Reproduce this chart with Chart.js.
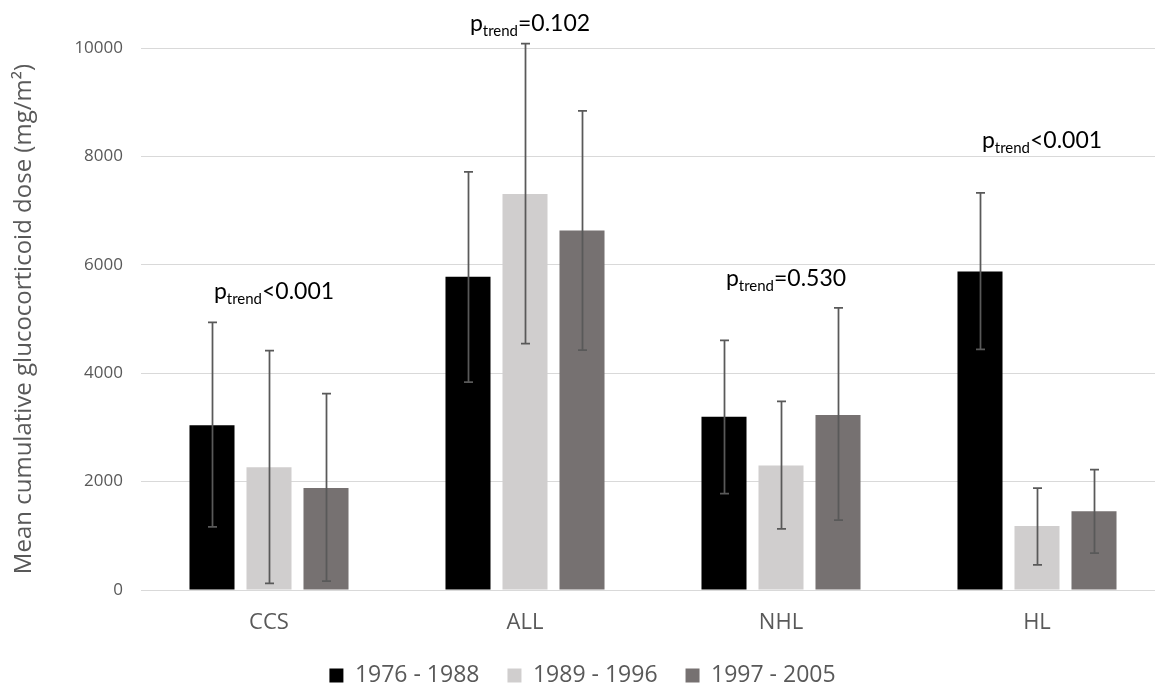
<!DOCTYPE html>
<html>
<head>
<meta charset="utf-8">
<script src="https://cdn.jsdelivr.net/npm/chart.js@4.4.1/dist/chart.umd.min.js"></script>
<style>
    html, body { margin: 0; padding: 0; background: #fff; overflow: hidden; }
    #wrap { position: relative; width: 1170px; height: 700px; }
</style>
</head>
<body>
<div id="wrap"><canvas id="dose-chart"></canvas></div>
<script>
// Mean cumulative glucocorticoid dose by diagnosis and treatment period
const categories = ['CCS', 'ALL', 'NHL', 'HL'];
const periods = ['1976 - 1988', '1989 - 1996', '1997 - 2005'];

const mean1976 = [3040, 5780, 3195, 5875];
const mean1989 = [2265, 7305, 2295, 1180];
const mean1997 = [1880, 6635, 3230, 1455];

// error bar ends
const upper1976 = [4940, 7715, 4605, 7325];
const lower1976 = [1165, 3835, 1780, 4440];
const upper1989 = [4415, 10080, 3480, 1880];
const lower1989 = [120, 4545, 1130, 465];
const upper1997 = [3625, 8840, 5205, 2220];
const lower1997 = [165, 4425, 1290, 680];

// p for trend per category, and the dose level its baseline sits at
const pTrend = ['<0.001', '=0.102', '=0.530', '<0.001'];
const pLabelAt = [5360, 10320, 5600, 8155];

const yMax = 10000;
const yStep = 2000;

const GRAY = '#595959';
const FONT = "'Open Sans', sans-serif";

const errorBars = {
    id: 'errorBars',
    afterDatasetsDraw(chart) {
        const ctx = chart.ctx;
        const y = chart.scales.y;
        const ranges = [[lower1976, upper1976], [lower1989, upper1989], [lower1997, upper1997]];
        ctx.save();
        ctx.strokeStyle = GRAY;
        ctx.lineWidth = 1.75;
        chart.data.datasets.forEach((ds, i) => {
            const meta = chart.getDatasetMeta(i);
            meta.data.forEach((bar, j) => {
                const lo = y.getPixelForValue(ranges[i][0][j]);
                const hi = y.getPixelForValue(ranges[i][1][j]);
                const x = Math.round(bar.x) + 0.5;
                ctx.beginPath();
                ctx.moveTo(x, lo); ctx.lineTo(x, hi);
                ctx.moveTo(x - 4.5, hi); ctx.lineTo(x + 4.5, hi);
                ctx.moveTo(x - 4.5, lo); ctx.lineTo(x + 4.5, lo);
                ctx.stroke();
            });
        });
        ctx.restore();
    }
};

const trendLabels = {
    id: 'trendLabels',
    afterDraw(chart) {
        const ctx = chart.ctx;
        const xs = chart.scales.x, ys = chart.scales.y;
        const big = "23px Lato, sans-serif";
        const small = "15px Lato, sans-serif";
        ctx.save();
        ctx.fillStyle = '#000';
        ctx.textBaseline = 'alphabetic';
        ctx.textAlign = 'left';
        pTrend.forEach((txt, i) => {
            ctx.font = big;
            const wp = ctx.measureText('p').width;
            const wr = ctx.measureText(txt).width;
            ctx.font = small;
            const ws = ctx.measureText('trend').width;
            const cx = xs.getPixelForValue(i) + 5;
            const by = ys.getPixelForValue(pLabelAt[i]);
            let x = cx - (wp + ws + wr) / 2;
            ctx.font = big;
            ctx.fillText('p', x, by);
            x += wp;
            ctx.font = small;
            ctx.fillText('trend', x, by + 5);
            x += ws;
            ctx.font = big;
            ctx.fillText(txt, x, by);
        });
        ctx.restore();
    }
};

new Chart(document.getElementById('dose-chart'), {
    type: 'bar',
    data: {
        labels: categories,
        datasets: [
            { label: periods[0], data: mean1976, backgroundColor: '#000000' },
            { label: periods[1], data: mean1989, backgroundColor: '#d0cece' },
            { label: periods[2], data: mean1997, backgroundColor: '#767171' }
        ]
    },
    options: {
        responsive: true,
        maintainAspectRatio: false,
        animation: false,
        categoryPercentage: 0.668,
        barPercentage: 0.79,
        layout: { padding: { top: 48, right: 5, bottom: 3, left: 0 } },
        plugins: {
            legend: {
                position: 'bottom',
                labels: {
                    boxWidth: 14,
                    boxHeight: 14,
                    padding: 28,
                    color: GRAY,
                    font: { family: FONT, size: 23 }
                }
            },
            tooltip: { enabled: false }
        },
        scales: {
            x: {
                afterFit(scale) { scale.height = 46; },
                grid: { display: false, drawTicks: false },
                border: { display: false },
                ticks: { color: GRAY, padding: 20, font: { family: FONT, size: 22 } }
            },
            y: {
                min: 0,
                max: yMax,
                afterFit(scale) { scale.width = 141; },
                ticks: {
                    stepSize: yStep,
                    color: GRAY,
                    padding: 18,
                    font: { family: FONT, size: 17 },
                    callback: v => String(v)
                },
                grid: { color: '#d9d9d9', lineWidth: 1, drawTicks: false },
                border: { display: false },
                title: {
                    display: true,
                    text: 'Mean cumulative glucocorticoid dose (mg/m²)',
                    color: GRAY,
                    font: { family: FONT, size: 24 },
                    padding: { top: 10, bottom: 0 }
                }
            }
        }
    },
    plugins: [errorBars, trendLabels]
});
</script>
</body>
</html>
